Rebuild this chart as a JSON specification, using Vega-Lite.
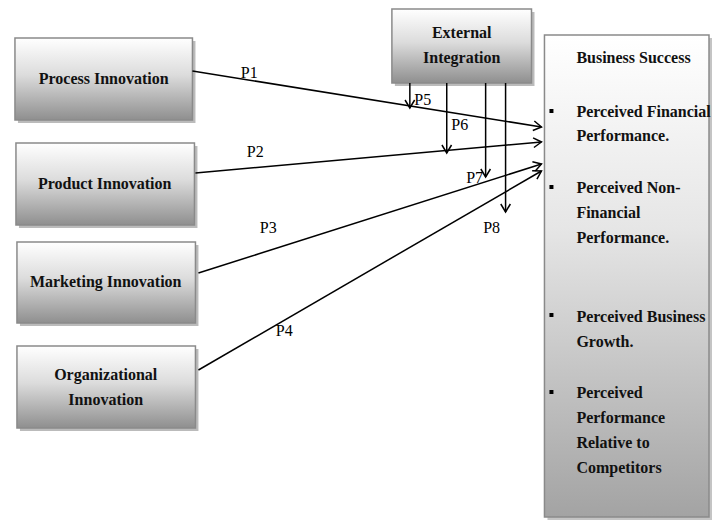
{
  "$schema": "https://vega.github.io/schema/vega-lite/v6.json",
  "width": 712,
  "height": 521,
  "padding": 0,
  "autosize": {"type": "fit", "contains": "padding"},
  "background": "white",
  "config": {"view": {"stroke": null}},
  "datasets": {
    "boxes": [
      {"name": "Process Innovation", "x": 15, "x2": 193, "y": 38, "y2": 120},
      {"name": "Product Innovation", "x": 16, "x2": 195, "y": 143, "y2": 225},
      {"name": "Marketing Innovation", "x": 17, "x2": 196, "y": 242, "y2": 323},
      {"name": "Organizational Innovation", "x": 17, "x2": 196, "y": 346, "y2": 428},
      {"name": "External Integration", "x": 393, "x2": 533, "y": 9, "y2": 83}
    ],
    "outcome": [
      {"name": "Business Success", "x": 546, "x2": 711, "y": 35, "y2": 517}
    ],
    "links": [
      {"label": "P1", "x": 193, "y": 71, "x2": 543, "y2": 127, "lx": 250, "ly": 73},
      {"label": "P2", "x": 196, "y": 173, "x2": 543, "y2": 142, "lx": 256, "ly": 152},
      {"label": "P3", "x": 199, "y": 273, "x2": 543, "y2": 164, "lx": 269, "ly": 228},
      {"label": "P4", "x": 199, "y": 370, "x2": 543, "y2": 171, "lx": 285, "ly": 331},
      {"label": "P5", "x": 411, "y": 83, "x2": 411, "y2": 108, "lx": 424, "ly": 100},
      {"label": "P6", "x": 448, "y": 83, "x2": 448, "y2": 153, "lx": 461, "ly": 125},
      {"label": "P7", "x": 487, "y": 83, "x2": 487, "y2": 177, "lx": 476, "ly": 178},
      {"label": "P8", "x": 507, "y": 83, "x2": 507, "y2": 212, "lx": 493, "ly": 228}
    ],
    "boxText": [
      {"text": "Process Innovation", "x": 104, "y": 79},
      {"text": "Product Innovation", "x": 105, "y": 184},
      {"text": "Marketing Innovation", "x": 106, "y": 282},
      {"text": "Organizational", "x": 106, "y": 375},
      {"text": "Innovation", "x": 106, "y": 400},
      {"text": "External", "x": 463, "y": 33},
      {"text": "Integration", "x": 463, "y": 58}
    ],
    "listText": [
      {"text": "Business Success", "x": 578, "y": 58},
      {"text": "Perceived Financial", "x": 578, "y": 112},
      {"text": "Performance.", "x": 578, "y": 136},
      {"text": "Perceived Non-", "x": 578, "y": 188},
      {"text": "Financial", "x": 578, "y": 213},
      {"text": "Performance.", "x": 578, "y": 238},
      {"text": "Perceived Business", "x": 578, "y": 317},
      {"text": "Growth.", "x": 578, "y": 342},
      {"text": "Perceived", "x": 578, "y": 393},
      {"text": "Performance", "x": 578, "y": 418},
      {"text": "Relative to", "x": 578, "y": 443},
      {"text": "Competitors", "x": 578, "y": 468}
    ],
    "bullets": [
      {"x": 553, "y": 111},
      {"x": 553, "y": 187},
      {"x": 553, "y": 315},
      {"x": 553, "y": 392}
    ]
  },
  "layer": [
    {
      "data": {"name": "boxes"},
      "mark": {"type": "rect", "color": "#555555", "opacity": 0.4, "xOffset": 3, "x2Offset": 3, "yOffset": 3, "y2Offset": 3},
      "encoding": {
        "x": {"field": "x", "type": "quantitative", "scale": {"domain": [0, 712], "nice": false, "zero": false}, "axis": null},
        "x2": {"field": "x2"},
        "y": {"field": "y", "type": "quantitative", "scale": {"domain": [0, 521], "nice": false, "zero": false, "reverse": true}, "axis": null},
        "y2": {"field": "y2"}
      }
    },
    {
      "data": {"name": "boxes"},
      "mark": {
        "type": "rect",
        "stroke": "#8a8a8a",
        "strokeWidth": 1.5,
        "fill": {"gradient": "linear", "x1": 0, "y1": 0, "x2": 0, "y2": 1,
          "stops": [{"offset": 0, "color": "#ffffff"}, {"offset": 0.45, "color": "#dcdcdc"}, {"offset": 1, "color": "#8f8f8f"}]}
      },
      "encoding": {
        "x": {"field": "x", "type": "quantitative", "axis": null},
        "x2": {"field": "x2"},
        "y": {"field": "y", "type": "quantitative", "axis": null},
        "y2": {"field": "y2"}
      }
    },
    {
      "data": {"name": "outcome"},
      "mark": {"type": "rect", "color": "#555555", "opacity": 0.35, "xOffset": 3, "x2Offset": 3, "yOffset": 3, "y2Offset": 3},
      "encoding": {
        "x": {"field": "x", "type": "quantitative", "axis": null},
        "x2": {"field": "x2"},
        "y": {"field": "y", "type": "quantitative", "axis": null},
        "y2": {"field": "y2"}
      }
    },
    {
      "data": {"name": "outcome"},
      "mark": {
        "type": "rect",
        "stroke": "#8a8a8a",
        "strokeWidth": 1.5,
        "fill": {"gradient": "linear", "x1": 0, "y1": 0, "x2": 0, "y2": 1,
          "stops": [{"offset": 0, "color": "#ffffff"}, {"offset": 0.4, "color": "#e6e6e6"}, {"offset": 1, "color": "#a3a3a3"}]}
      },
      "encoding": {
        "x": {"field": "x", "type": "quantitative", "axis": null},
        "x2": {"field": "x2"},
        "y": {"field": "y", "type": "quantitative", "axis": null},
        "y2": {"field": "y2"}
      }
    },
    {
      "data": {"name": "links"},
      "mark": {"type": "rule", "color": "black", "strokeWidth": 1.5},
      "encoding": {
        "x": {"field": "x", "type": "quantitative", "axis": null},
        "x2": {"field": "x2"},
        "y": {"field": "y", "type": "quantitative", "axis": null},
        "y2": {"field": "y2"}
      }
    },
    {
      "data": {"name": "links"},
      "transform": [
        {"calculate": "atan2(datum.y2 - datum.y, datum.x2 - datum.x) * 180 / PI", "as": "angle"}
      ],
      "mark": {"type": "point", "shape": "M -1 -0.6 L 0 0 L -1 0.6", "filled": false, "stroke": "black", "strokeWidth": 1.5, "size": 256, "opacity": 1},
      "encoding": {
        "x": {"field": "x2", "type": "quantitative", "axis": null},
        "y": {"field": "y2", "type": "quantitative", "axis": null},
        "angle": {"field": "angle", "type": "quantitative", "scale": null}
      }
    },
    {
      "data": {"name": "links"},
      "mark": {"type": "text", "font": "Liberation Serif", "fontSize": 16, "color": "black", "align": "center", "baseline": "middle"},
      "encoding": {
        "x": {"field": "lx", "type": "quantitative", "axis": null},
        "y": {"field": "ly", "type": "quantitative", "axis": null},
        "text": {"field": "label"}
      }
    },
    {
      "data": {"name": "boxText"},
      "mark": {"type": "text", "font": "Liberation Serif", "fontSize": 16, "fontWeight": "bold", "color": "#111111", "align": "center", "baseline": "middle"},
      "encoding": {
        "x": {"field": "x", "type": "quantitative", "axis": null},
        "y": {"field": "y", "type": "quantitative", "axis": null},
        "text": {"field": "text"}
      }
    },
    {
      "data": {"name": "listText"},
      "mark": {"type": "text", "font": "Liberation Serif", "fontSize": 16, "fontWeight": "bold", "color": "#111111", "align": "left", "baseline": "middle"},
      "encoding": {
        "x": {"field": "x", "type": "quantitative", "axis": null},
        "y": {"field": "y", "type": "quantitative", "axis": null},
        "text": {"field": "text"}
      }
    },
    {
      "data": {"name": "bullets"},
      "mark": {"type": "point", "shape": "square", "filled": true, "color": "black", "size": 16, "opacity": 1},
      "encoding": {
        "x": {"field": "x", "type": "quantitative", "axis": null},
        "y": {"field": "y", "type": "quantitative", "axis": null}
      }
    }
  ]
}
